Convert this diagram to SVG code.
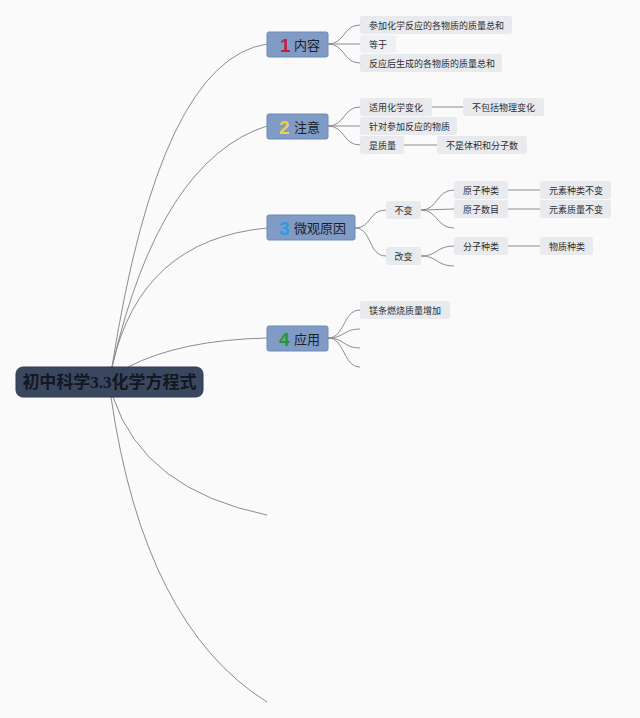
<svg xmlns="http://www.w3.org/2000/svg" width="640" height="718" viewBox="0 0 640 718">
<style>
.bg{fill:#fafafa}
.root rect{fill:#3a475f;stroke:#2e3a50;stroke-width:1}
.root text{font-family:"Liberation Serif","Noto Sans CJK SC",serif;font-size:17px;font-weight:bold;fill:#131722}
.main rect{fill:#7f9bc6;stroke:#6f8ab3;stroke-width:1}
.main text{font-family:"Noto Sans CJK SC","Noto Sans",sans-serif;font-size:13px;fill:#1c1f26}
.sub rect{fill:#e8eaee}
.sub text{font-family:"Noto Sans CJK SC","Noto Sans",sans-serif;font-size:9px;fill:#2a2d33}
.conn path{fill:none;stroke:#8a8c90;stroke-width:1}
</style>
<rect class="bg" x="0" y="0" width="640" height="718"/>
<g class="conn" id="connectors">
<path d="M112,367 Q160,60 267,44"/>
<path d="M112,367 Q160,160 267,126"/>
<path d="M112,367 Q140,240 267,228"/>
<path d="M128,367 Q180,340 267,338"/>
<path d="M113,397 Q144,490 267,515"/>
<path d="M111,397 Q144,625 267,702"/>
<path d="M328,44 C345,44 343,25 360,25"/>
<path d="M328,44 L360,44"/>
<path d="M328,44 C345,44 343,63 360,63"/>
<path d="M328,126 C345,126 343,107 360,107"/>
<path d="M328,126 L360,126"/>
<path d="M328,126 C345,126 343,145 360,145"/>
<path d="M432,107 L463,107"/>
<path d="M404,145 L437,145"/>
<path d="M355,228 C372,228 368,210 386,210"/>
<path d="M355,228 C372,228 368,256 386,256"/>
<path d="M421,210 C438,210 436,190 454,190"/>
<path d="M421,210 L454,209"/>
<path d="M421,210 C438,210 436,228 454,228"/>
<path d="M421,256 C438,256 436,246 454,246"/>
<path d="M421,256 C438,256 436,266 454,266"/>
<path d="M508,190 L540,190"/>
<path d="M508,209 L540,209"/>
<path d="M508,246 L540,246"/>
<path d="M328,338 C345,338 343,310 360,310"/>
<path d="M328,338 C345,338 343,329 360,329"/>
<path d="M328,338 C345,338 343,348 360,348"/>
<path d="M328,338 C345,338 343,367 360,367"/>
</g>
<g class="root" id="root">
<rect x="16" y="367" width="187" height="30" rx="7"/>
<text x="109.5" y="388" text-anchor="middle">初中科学3.3化学方程式</text>
</g>
<g class="main" id="t1">
<rect x="267" y="32" width="61" height="25" rx="2"/>
<text x="280" y="52" style="font-family:'Liberation Sans',sans-serif;font-size:19px;font-weight:bold;fill:#c81e3c">1</text>
<text x="294" y="50">内容</text>
</g>
<g class="main" id="t2">
<rect x="267" y="114" width="61" height="25" rx="2"/>
<text x="279" y="134" style="font-family:'Liberation Sans',sans-serif;font-size:19px;font-weight:bold;fill:#ecd048">2</text>
<text x="294" y="132">注意</text>
</g>
<g class="main" id="t3">
<rect x="267" y="215" width="88" height="25" rx="2"/>
<text x="279" y="235" style="font-family:'Liberation Sans',sans-serif;font-size:19px;font-weight:bold;fill:#2f9be0">3</text>
<text x="294" y="233">微观原因</text>
</g>
<g class="main" id="t4">
<rect x="267" y="326" width="61" height="25" rx="2"/>
<text x="279" y="346" style="font-family:'Liberation Sans',sans-serif;font-size:19px;font-weight:bold;fill:#1f9a2a">4</text>
<text x="294" y="344">应用</text>
</g>
<g class="sub" id="t1a"><rect x="360" y="16" width="152" height="18" rx="3"/><text x="369" y="28.5">参加化学反应的各物质的质量总和</text></g>
<g class="sub" id="t1b"><rect x="360" y="35" width="36" height="18" rx="3" style="fill:#eef0f3"/><text x="369" y="47.5">等于</text></g>
<g class="sub" id="t1c"><rect x="360" y="54" width="142" height="18" rx="3"/><text x="369" y="66.5">反应后生成的各物质的质量总和</text></g>
<g class="sub" id="t2a"><rect x="360" y="98" width="72" height="18" rx="3"/><text x="369" y="110.5">适用化学变化</text></g>
<g class="sub" id="t2a1"><rect x="463" y="98" width="81" height="18" rx="3"/><text x="472" y="110.5">不包括物理变化</text></g>
<g class="sub" id="t2b"><rect x="360" y="117" width="97" height="18" rx="3"/><text x="369" y="129.5">针对参加反应的物质</text></g>
<g class="sub" id="t2c"><rect x="360" y="136" width="44" height="18" rx="3"/><text x="369" y="148.5">是质量</text></g>
<g class="sub" id="t2c1"><rect x="437" y="136" width="90" height="18" rx="3"/><text x="446" y="148.5">不是体积和分子数</text></g>
<g class="sub" id="t3a"><rect x="386" y="201" width="35" height="18" rx="3"/><text x="394.5" y="213.5">不变</text></g>
<g class="sub" id="t3b"><rect x="386" y="247" width="35" height="18" rx="3"/><text x="394.5" y="259.5">改变</text></g>
<g class="sub" id="t3a1"><rect x="454" y="181" width="54" height="18" rx="3"/><text x="463" y="193.5">原子种类</text></g>
<g class="sub" id="t3a2"><rect x="454" y="200" width="54" height="18" rx="3"/><text x="463" y="212.5">原子数目</text></g>
<g class="sub" id="t3b1"><rect x="454" y="237" width="54" height="18" rx="3"/><text x="463" y="249.5">分子种类</text></g>
<g class="sub" id="t3a1a"><rect x="540" y="181" width="71" height="18" rx="3"/><text x="549" y="193.5">元素种类不变</text></g>
<g class="sub" id="t3a2a"><rect x="540" y="200" width="71" height="18" rx="3"/><text x="549" y="212.5">元素质量不变</text></g>
<g class="sub" id="t3b1a"><rect x="540" y="237" width="53" height="18" rx="3"/><text x="549" y="249.5">物质种类</text></g>
<g class="sub" id="t4a"><rect x="360" y="301" width="90" height="18" rx="3"/><text x="369" y="313.5">镁条燃烧质量增加</text></g>
</svg>
